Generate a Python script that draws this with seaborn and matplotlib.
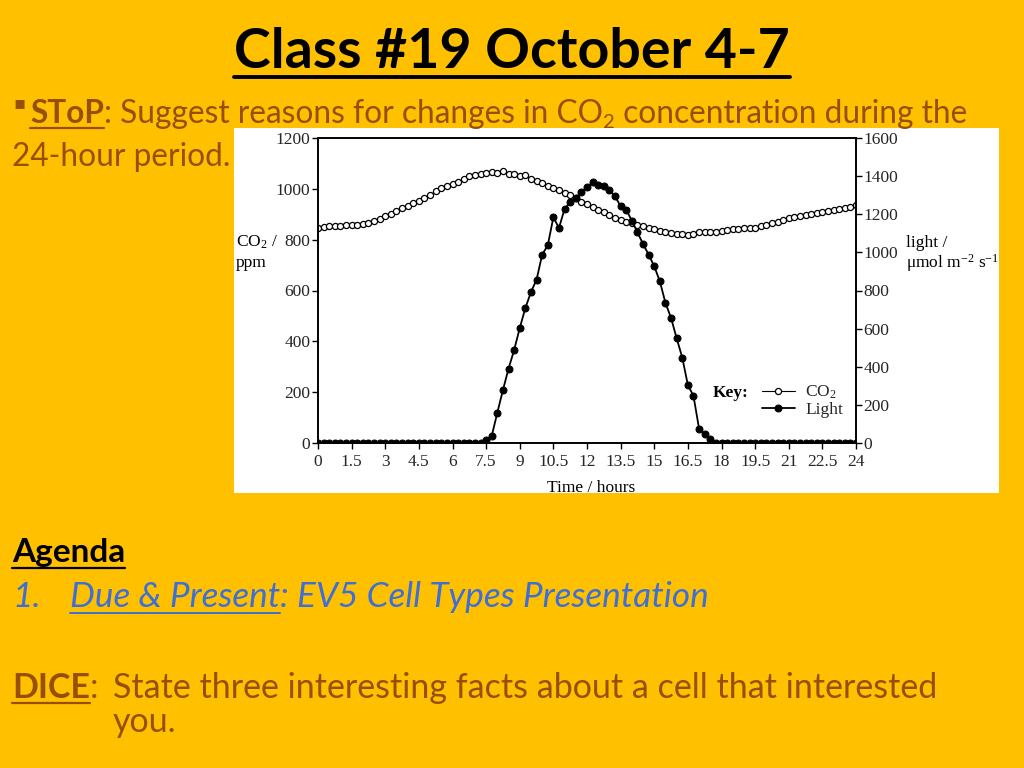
import numpy as np
import pandas as pd
import seaborn as sns
import matplotlib.pyplot as plt
from matplotlib.lines import Line2D
from matplotlib.patches import Rectangle
from matplotlib.transforms import IdentityTransform

# datos (cada 15 minutos, 0 a 24 h)
hours = np.arange(0, 24.01, 0.25)

co2_ppm = [846, 850, 852, 854, 855, 856, 856, 858, 862, 866, 874, 882,
           892, 902, 914, 926, 932, 944, 952, 964, 975, 990, 1004, 1012,
           1020, 1028, 1040, 1050, 1054, 1060, 1064, 1068, 1064, 1072, 1060, 1058,
           1052, 1056, 1040, 1030, 1024, 1012, 1004, 996, 984, 976, 964, 950,
           940, 930, 918, 908, 898, 886, 878, 870, 864, 858, 852, 846,
           840, 836, 832, 828, 824, 822, 818, 822, 832, 832, 830, 832,
           834, 838, 842, 842, 846, 844, 846, 854, 858, 866, 870, 878,
           884, 888, 892, 896, 902, 906, 908, 912, 916, 920, 924, 930, 936]

light = [0] * 30 + [15, 37, 159, 278, 390, 488, 603, 708, 792, 857, 988, 1037,
                    1184, 1128, 1228, 1264, 1285, 1317, 1341, 1368, 1355, 1347, 1326, 1294,
                    1242, 1224, 1166, 1105, 1044, 988, 927, 848, 735, 656, 549, 448,
                    304, 247, 75, 47, 21, 2] + [0] * 25

hour_ticks = np.arange(0, 24.01, 1.5)
co2_ticks = np.arange(0, 1201, 200)
light_ticks = np.arange(0, 1601, 200)

df = pd.DataFrame({"hora": hours, "co2": co2_ppm, "luz": light})

W, H = 1024, 768
naranja = "#FFC000"
marron = "#974F06"
azul = "#3E6FD6"
slide_font = ["Lato", "DejaVu Sans"]
serif = ["Liberation Serif", "DejaVu Serif"]

sns.set_style("ticks")
plt.rcParams["mathtext.fontset"] = "custom"
plt.rcParams["mathtext.rm"] = "Liberation Serif"
plt.rcParams["mathtext.it"] = "Liberation Serif:italic"
plt.rcParams["mathtext.bf"] = "Liberation Serif:bold"

fig = plt.figure(figsize=(W / 100, H / 100), dpi=100, facecolor=naranja)
renderer = fig.canvas.get_renderer()

# caja blanca de la imagen del grafico
fig.add_artist(Rectangle((234 / W, 1 - 493 / H), 765 / W, 365 / H,
                         transform=fig.transFigure, facecolor="white", edgecolor="none", zorder=0))

####################
#### GRAFICO ####
####################
ax = fig.add_axes([318 / W, 1 - 443 / H, 538 / W, 305 / H])
ax.set_facecolor("none")
ax2 = ax.twinx()

sns.lineplot(data=df, x="hora", y="co2", ax=ax, color="black", lw=0.8,
             marker="o", markersize=4.4, markerfacecolor="white",
             markeredgecolor="black", markeredgewidth=0.9, label="CO$_2$", legend=False)
sns.lineplot(data=df, x="hora", y="luz", ax=ax2, color="black", lw=1.3,
             marker="o", markersize=5, markerfacecolor="black",
             markeredgecolor="black", label="Light", legend=False)

ax.set_xlim(0, 24)
ax.set_ylim(0, 1200)
ax2.set_ylim(0, 1600)
ax.set_xticks(hour_ticks)
ax.set_xticklabels([f"{h:g}" for h in hour_ticks])
ax.set_yticks(co2_ticks)
ax2.set_yticks(light_ticks)
ax.set_xlabel("")
ax.set_ylabel("")
ax2.set_ylabel("")
for a in (ax, ax2):
    for sp in a.spines.values():
        sp.set_visible(True)
        sp.set_color("black")
        sp.set_linewidth(1.2)
    a.tick_params(length=4, width=1, color="black", labelsize=12.5, pad=1.5)
    for lab in a.get_xticklabels() + a.get_yticklabels():
        lab.set_family(serif)
ax.tick_params(axis="x", pad=4)

tk = dict(family=serif, fontsize=12.5, color="black", transform=IdentityTransform())
fig.text(236, H - 247, "CO$_2$ /", **tk)
fig.text(236, H - 267, "ppm", **tk)
fig.text(906, H - 247, "light /", **tk)
fig.text(906, H - 268, "μmol m$^{-2}$ s$^{-1}$", **tk)
fig.text(591, H - 492, "Time / hours", ha="center", **tk)
fig.text(713, H - 397, "Key:", fontweight="bold", **tk)

leg = ax2.legend(handles=[ax.lines[0], ax2.lines[0]], labels=["CO$_2$", "Light"],
                 loc="upper left", bbox_to_anchor=(762 / W, 1 - 384 / H),
                 bbox_transform=fig.transFigure, frameon=False, borderpad=0,
                 borderaxespad=0, handlelength=1.9, handletextpad=0.6, labelspacing=0.05,
                 prop={"family": serif, "size": 12.5})

##########################
#### TEXTO DIAPOSITIVA ####
##########################
def run(x, y, parts):
    # escribe trozos de texto seguidos sobre la misma linea base
    for s, kw in parts:
        kw = dict(kw)
        ul = kw.pop("ul", False)
        dy = kw.pop("dy", 0)
        t = fig.text(x, H - y - dy, s, transform=IdentityTransform(), va="baseline", **kw)
        bb = t.get_window_extent(renderer)
        if ul:
            fig.add_artist(Line2D([bb.x0, bb.x1], [H - y - ul[0]] * 2, transform=IdentityTransform(),
                                  color=kw.get("color", "black"), lw=ul[1]))
        x = bb.x1
    return x


title = fig.text(512, H - 68, "Class #19 October 4-7", ha="center", va="baseline",
                 transform=IdentityTransform(), family=slide_font, fontsize=40,
                 fontweight="bold", color="black")
bb = title.get_window_extent(renderer)
fig.add_artist(Line2D([bb.x0, bb.x1], [H - 77] * 2, transform=IdentityTransform(), color="black", lw=2.8))

st = dict(family=slide_font, fontsize=22.8, color=marron)
fig.text(13, H - 108, "▪", transform=IdentityTransform(), va="baseline",
         family="DejaVu Sans", fontsize=13, color=marron)
run(30, 123, [("SToP", dict(st, fontweight="bold", ul=(5, 1.6))),
              (": Suggest reasons for changes in CO", st),
              ("2", dict(st, fontsize=14.5, dy=5)),
              (" concentration during the", st)])
run(12, 166, [("24-hour period.", st)])

run(12, 562, [("Agenda", dict(family=slide_font, fontsize=24, color="black",
                                fontweight="bold", ul=(6, 1.6)))])
bl = dict(family=slide_font, fontsize=25.3, color=azul, style="italic")
run(12, 607, [("1.", bl)])
run(70, 607, [("Due & Present", dict(bl, ul=(6, 1.4))),
              (": EV5 Cell Types Presentation", bl)])

dc = dict(st, fontsize=24.5)
run(12, 698, [("DICE", dict(dc, fontweight="bold", ul=(5, 1.6))), (":", dc)])
run(113, 698, [("State three interesting facts about a cell that interested", dc)])
run(113, 732, [("you.", dc)])

plt.savefig("out.png", dpi=100, facecolor=naranja)
